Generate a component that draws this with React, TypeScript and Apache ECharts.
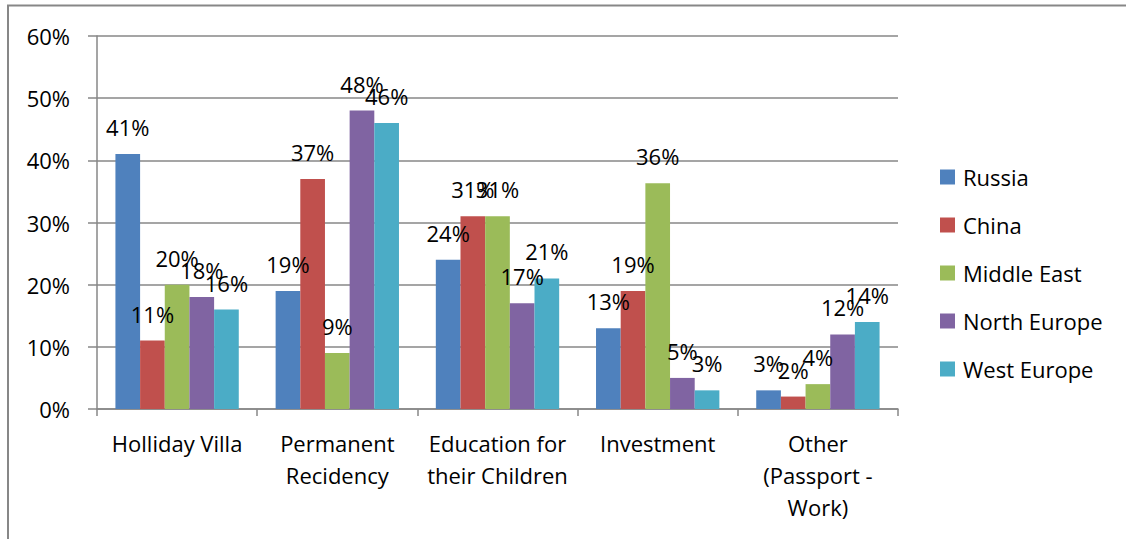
import React, { useEffect, useRef } from "react";
import * as echarts from "echarts";

const categories = [
  "Holliday Villa",
  "Permanent\nRecidency",
  "Education for\ntheir Children",
  "Investment",
  "Other\n(Passport -\nWork)",
];
const seriesNames = ["Russia", "China", "Middle East", "North Europe", "West Europe"];
const russia = [41, 19, 24, 13, 3];
const china = [11, 37, 31, 19, 2];
const middleEast = [20, 9, 31, 36.3, 4];
const northEurope = [18, 48, 17, 5, 12];
const westEurope = [16, 46, 21, 3, 14];
const colors = ["#4F81BD", "#C0504D", "#9BBB59", "#8064A2", "#4BACC6"];
const yTicks = [0, 10, 20, 30, 40, 50, 60];

const FONT = "Open Sans";

export default function App() {
  const ref = useRef<HTMLDivElement>(null);
  useEffect(() => {
    document.body.style.margin = "0";
    const chart = echarts.init(ref.current!, null, { renderer: "svg" });
    const data = [russia, china, middleEast, northEurope, westEurope];
    chart.setOption({
      animation: false,
      textStyle: { fontFamily: FONT },
      graphic: [
        {
          type: "rect",
          shape: { x: 8, y: 5.5, width: 1200, height: 700 },
          style: { fill: "none", stroke: "#878787", lineWidth: 2 },
          silent: true,
        },
      ],
      grid: { left: 97, right: 228, top: 36, bottom: 130, containLabel: false },
      legend: {
        orient: "vertical",
        left: 940,
        top: 166,
        padding: 0,
        itemWidth: 15,
        itemHeight: 15,
        itemGap: 26,
        icon: "rect",
        data: seriesNames,
        textStyle: { fontFamily: FONT, fontSize: 22, color: "#000", padding: [0, 0, 0, 3] },
      },
      xAxis: {
        type: "category",
        data: categories,
        axisLine: { lineStyle: { color: "#878787", width: 1.5 } },
        axisTick: { show: true, length: 7, lineStyle: { color: "#878787", width: 1.5 } },
        axisLabel: {
          fontFamily: FONT,
          fontSize: 22,
          lineHeight: 32,
          color: "#000",
          margin: 18,
          interval: 0,
        },
      },
      yAxis: {
        type: "value",
        min: 0,
        max: 60,
        interval: 10,
        axisLine: { show: true, lineStyle: { color: "#878787", width: 1.5 } },
        axisTick: { show: true, length: 9, lineStyle: { color: "#878787", width: 1.5 } },
        splitLine: { lineStyle: { color: "#878787", width: 1.5 } },
        axisLabel: {
          fontFamily: FONT,
          fontSize: 22,
          color: "#000",
          margin: 27,
          formatter: (v: number) => (yTicks.includes(v) ? `${v}%` : ""),
        },
      },
      series: seriesNames.map((name, i) => ({
        name,
        type: "bar",
        data: data[i],
        barGap: "0%",
        barCategoryGap: "23%",
        itemStyle: { color: colors[i] },
        label: {
          show: true,
          position: "top",
          distance: 16,
          fontFamily: FONT,
          fontSize: 22,
          lineHeight: 22,
          color: "#000",
          formatter: (p: any) => `${Math.round(p.value)}%`,
        },
      })),
    });
    return () => chart.dispose();
  }, []);
  return <div ref={ref} style={{ width: 1126, height: 539 }} />;
}
